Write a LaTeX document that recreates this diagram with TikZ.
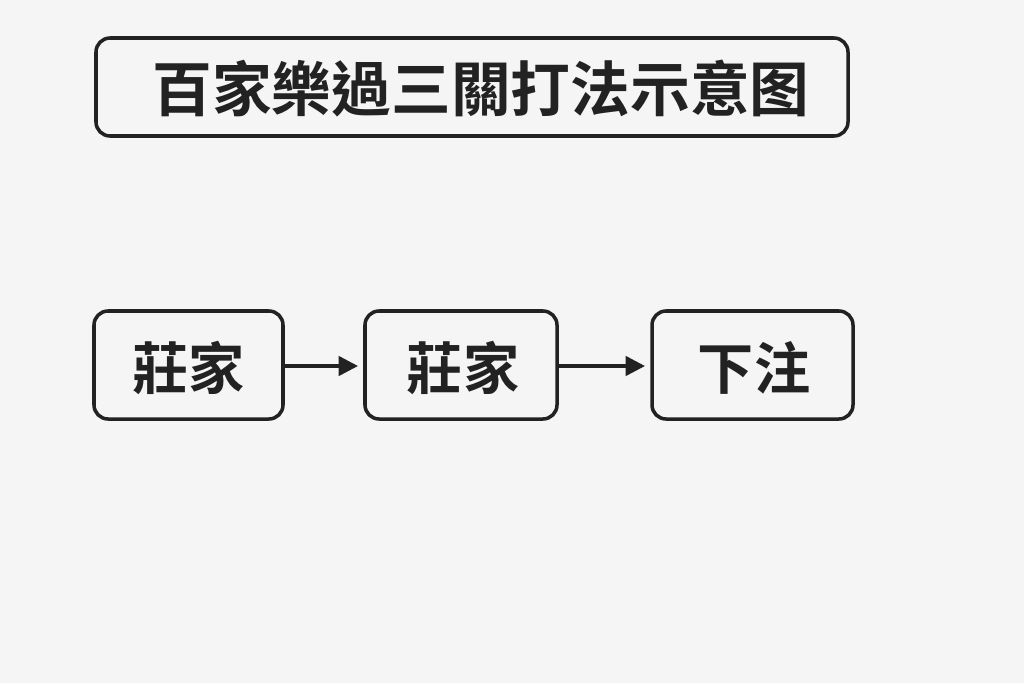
\documentclass[tikz,border=0pt]{standalone}
\usepackage{fontspec}
\newfontfamily\cjk{Noto Sans CJK TC Bold}
\usetikzlibrary{arrows.meta}
\definecolor{bg}{HTML}{F5F5F5}
\definecolor{ink}{HTML}{222222}
\tikzset{
  box/.style={draw=ink,line width=2pt,rounded corners=8pt,fill=bg,inner sep=0pt},
  lbl/.style={font=\cjk\fontsize{32}{38}\selectfont,text=ink},
  conn/.style={draw=ink,line width=2pt,-{Triangle[length=11pt,width=11pt]}}
}
\begin{document}
\begin{tikzpicture}[x=0.02cm,y=-0.02cm]
\fill[bg] (0,0) rectangle (1024,683);
\useasboundingbox (0,0) rectangle (1024,683);
\draw[box] (96,38) rectangle (848,136);
\node[lbl,font=\cjk\fontsize{34}{40}\selectfont] (title) at (481,89) {百家樂過三關打法示意图};
\draw[box] (94,311) rectangle (283,419);
\node[lbl] (a) at (188.5,368) {莊家};
\draw[box] (365,311) rectangle (557,419);
\node[lbl] (b) at (463,368) {莊家};
\draw[box] (652,311) rectangle (853,419);
\node[lbl] (c) at (754,368) {下注};
\coordinate (ae) at (283,366);
\coordinate (bw) at (358,366);
\coordinate (be) at (557,366);
\coordinate (cw) at (645,366);
\draw[conn] (ae) -- (bw);
\draw[conn] (be) -- (cw);
\end{tikzpicture}
\end{document}
